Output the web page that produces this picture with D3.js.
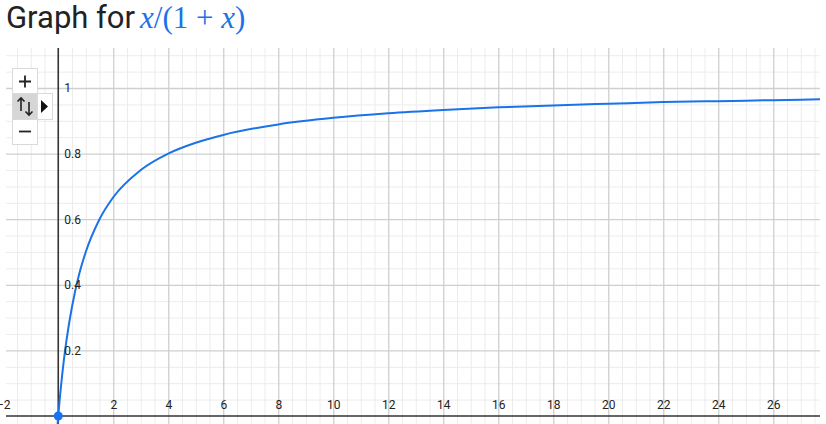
<!DOCTYPE html>
<html>
<head>
<meta charset="utf-8">
<script src="https://cdn.jsdelivr.net/npm/d3@7"></script>
<style>
  html, body { margin: 0; padding: 0; background: #fff; }
  svg { display: block; }
</style>
</head>
<body>
<svg id="chart" width="826" height="424"></svg>
<script>
// ---- data ----
const curveX = [-0.025, 0, 0.05, 0.1, 0.2, 0.3, 0.5, 0.75, 1, 1.5, 2, 3, 4, 5, 6, 8, 10, 12, 14, 16, 18, 20, 22, 24, 26, 28];
const curveY = [-0.026, 0, 0.048, 0.091, 0.167, 0.231, 0.333, 0.429, 0.5, 0.6, 0.667, 0.75, 0.8, 0.833, 0.857, 0.889, 0.909, 0.923, 0.933, 0.941, 0.947, 0.952, 0.957, 0.96, 0.963, 0.966];
const xTickValues = [-2, 2, 4, 6, 8, 10, 12, 14, 16, 18, 20, 22, 24, 26];
const yTickValues = [0.2, 0.4, 0.6, 0.8, 1];
const xMajorStep = 2, xMinorStep = 0.5;
const yMajorStep = 0.2, yMinorStep = 0.05;
const titleText = "Graph for ";
const pointX = [0];
const pointY = [0];

(function () {
const svg = d3.select("#chart");
const pL = 6, pR = 820, pT = 48, pB = 424;

const x = d3.scaleLinear().domain([-1.9, 27.7]).range([pL, pR]);
const y = d3.scaleLinear().domain([-0.0244, 1.122]).range([pB, pT]);

// title
const title = svg.append("text")
  .attr("x", 6).attr("y", 28)
  .attr("font-family", "Roboto, 'Noto Sans', sans-serif")
  .attr("font-size", 31)
  .attr("fill", "#222");
title.append("tspan").text(titleText);
const math = svg.append("text")
  .attr("x", 140).attr("y", 28)
  .attr("font-family", "'Liberation Serif', 'DejaVu Serif', serif")
  .attr("font-size", 31)
  .attr("fill", "#1a73e8");
math.append("tspan").attr("font-style", "italic").text("x");
math.append("tspan").text("/(1 + ");
math.append("tspan").attr("font-style", "italic").text("x");
math.append("tspan").text(")");

const clip = svg.append("defs").append("clipPath").attr("id", "plotclip");
clip.append("rect").attr("x", pL).attr("y", pT).attr("width", pR - pL).attr("height", pB - pT);

const g = svg.append("g").attr("clip-path", "url(#plotclip)");

// grid
const xMinor = d3.range(-2, 28.01, xMinorStep).filter(v => Math.abs(v / xMajorStep - Math.round(v / xMajorStep)) > 1e-6);
const xMajor = d3.range(-2, 28.01, xMajorStep).filter(v => v !== 0);
const yMinor = d3.range(-0.05, 1.2, yMinorStep).filter(v => Math.abs(v / yMajorStep - Math.round(v / yMajorStep)) > 1e-6);
const yMajor = d3.range(-0.2, 1.21, yMajorStep).filter(v => Math.abs(v) > 1e-6);

const grid = g.append("g");
grid.append("g")
  .attr("transform", `translate(0,${pB})`)
  .call(d3.axisBottom(x).tickValues(xMinor).tickSize(-(pB - pT)).tickFormat(""))
  .call(s => s.select(".domain").remove())
  .call(s => s.selectAll("line").attr("stroke", "#ececec").attr("stroke-width", 1));
grid.append("g")
  .attr("transform", `translate(${pL},0)`)
  .call(d3.axisLeft(y).tickValues(yMinor).tickSize(-(pR - pL)).tickFormat(""))
  .call(s => s.select(".domain").remove())
  .call(s => s.selectAll("line").attr("stroke", "#ececec").attr("stroke-width", 1));
grid.append("g")
  .attr("transform", `translate(0,${pB})`)
  .call(d3.axisBottom(x).tickValues(xMajor).tickSize(-(pB - pT)).tickFormat(""))
  .call(s => s.select(".domain").remove())
  .call(s => s.selectAll("line").attr("stroke", "#cfcfcf").attr("stroke-width", 1.3));
grid.append("g")
  .attr("transform", `translate(${pL},0)`)
  .call(d3.axisLeft(y).tickValues(yMajor).tickSize(-(pR - pL)).tickFormat(""))
  .call(s => s.select(".domain").remove())
  .call(s => s.selectAll("line").attr("stroke", "#cfcfcf").attr("stroke-width", 1.3));

// axes lines
g.append("line").attr("x1", pL).attr("x2", pR).attr("y1", y(0)).attr("y2", y(0))
  .attr("stroke", "#333").attr("stroke-width", 1.6);
g.append("line").attr("x1", x(0)).attr("x2", x(0)).attr("y1", pT).attr("y2", pB)
  .attr("stroke", "#333").attr("stroke-width", 1.6);

// tick labels
const fmt = d => (d < 0 ? "\u2212" : "") + Math.abs(d);
svg.append("g")
  .attr("transform", `translate(0,${y(0)})`)
  .call(d3.axisTop(x).tickValues(xTickValues).tickSize(0).tickPadding(7).tickFormat(fmt))
  .call(s => s.select(".domain").remove())
  .call(s => s.selectAll("text").attr("font-family", "Roboto, sans-serif").attr("font-size", 12).attr("fill", "#222"));
svg.append("g")
  .attr("transform", `translate(${x(0)},0)`)
  .call(d3.axisRight(y).tickValues(yTickValues).tickSize(0).tickPadding(6).tickFormat(d => d3.format("~g")(d)))
  .call(s => s.select(".domain").remove())
  .call(s => s.selectAll("text").attr("font-family", "Roboto, sans-serif").attr("font-size", 12).attr("fill", "#222"));

// curve
const pts = curveX.map((v, i) => [v, curveY[i]]);
g.append("path")
  .datum(pts)
  .attr("fill", "none")
  .attr("stroke", "#1a73e8")
  .attr("stroke-width", 2)
  .attr("d", d3.line().x(d => x(d[0])).y(d => y(d[1])).curve(d3.curveMonotoneX));

g.selectAll("circle.pt").data(pointX.map((v, i) => [v, pointY[i]])).enter()
  .append("circle").attr("class", "pt")
  .attr("cx", d => x(d[0])).attr("cy", d => y(d[1])).attr("r", 4.5)
  .attr("fill", "#1a73e8");

// zoom controls
const ctl = svg.append("g");
ctl.append("rect").attr("x", 12.5).attr("y", 68.5).attr("width", 25).attr("height", 76)
  .attr("fill", "#fff").attr("stroke", "#dadada");
ctl.append("rect").attr("x", 12.5).attr("y", 93.5).attr("width", 25).attr("height", 26)
  .attr("fill", "#d6d6d6").attr("stroke", "#dadada");
ctl.append("rect").attr("x", 37.5).attr("y", 93.5).attr("width", 15).attr("height", 26)
  .attr("fill", "#fff").attr("stroke", "#dadada");
ctl.append("path").attr("d", "M19,81.5 H31 M25,75.5 V87.5").attr("stroke", "#222").attr("stroke-width", 1.8);
ctl.append("path").attr("d", "M19,131.5 H31").attr("stroke", "#222").attr("stroke-width", 1.8);
ctl.append("path").attr("d", "M21,111 V98 M17.5,101.5 L21,98 L24.5,101.5").attr("stroke", "#222").attr("stroke-width", 1.6).attr("fill", "none");
ctl.append("path").attr("d", "M29,102 V115 M25.5,111.5 L29,115 L32.5,111.5").attr("stroke", "#222").attr("stroke-width", 1.6).attr("fill", "none");
ctl.append("path").attr("d", "M41,100 L48,106.5 L41,113 Z").attr("fill", "#111");
})();
</script>
</body>
</html>
